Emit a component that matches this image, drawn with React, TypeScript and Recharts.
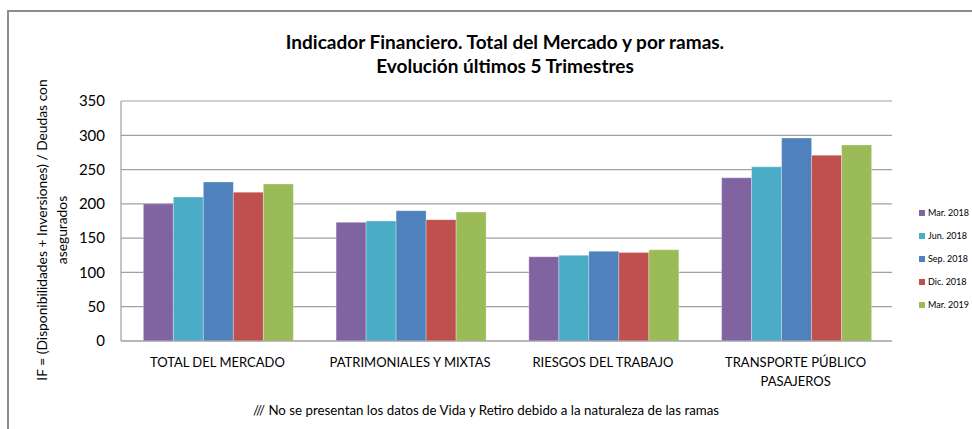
import { BarChart, Bar, XAxis, YAxis, CartesianGrid } from 'recharts'

const CATEGORIES = ['TOTAL DEL MERCADO', 'PATRIMONIALES Y MIXTAS', 'RIESGOS DEL TRABAJO', 'TRANSPORTE PÚBLICO\nPASAJEROS']
const SERIES = ['Mar. 2018', 'Jun. 2018', 'Sep. 2018', 'Dic. 2018', 'Mar. 2019']
const COLORS = ['#8064A2', '#4BACC6', '#4F81BD', '#C0504D', '#9BBB59']

const MAR_2018 = [200, 173, 123, 238]
const JUN_2018 = [210, 175, 125, 254]
const SEP_2018 = [232, 190, 131, 296]
const DIC_2018 = [217, 177, 129, 271]
const MAR_2019 = [229, 188, 133, 286]

const Y_TICKS = [0, 50, 100, 150, 200, 250, 300, 350]

const VALUES = [MAR_2018, JUN_2018, SEP_2018, DIC_2018, MAR_2019]

const data = CATEGORIES.map((name, i) => {
  const row: Record<string, string | number> = { name }
  SERIES.forEach((s, j) => {
    row[s] = VALUES[j][i]
  })
  return row
})

const FONT = 'Lato, "Liberation Sans", sans-serif'

function CategoryTick({ x, y, payload }: any) {
  const lines = String(payload.value).split('\n')
  return (
    <text x={x} y={y} textAnchor="middle" fontSize={13} fill="#000" fontFamily={FONT}>
      {lines.map((l, i) => (
        <tspan key={i} x={x} dy={i === 0 ? 18 : 19}>
          {l}
        </tspan>
      ))}
    </text>
  )
}

export default function App() {
  return (
    <div style={{ position: 'absolute', left: 0, top: 0, width: 972, height: 429, background: '#fff', overflow: 'hidden', fontFamily: FONT }}>
      <div style={{ position: 'absolute', left: 7, top: 10, right: -10, bottom: -10, borderTop: '2px solid #8c8c8c', borderLeft: '2px solid #8c8c8c' }} />
      <div style={{ position: 'absolute', left: 0, width: 1010, top: 30, textAlign: 'center', fontWeight: 700, fontSize: 19, lineHeight: '24px' }}>
        Indicador Financiero. Total del Mercado y por ramas.
        <br />
        Evolución últimos 5 Trimestres
      </div>
      <div
        style={{
          position: 'absolute',
          left: 52,
          top: 230,
          width: 340,
          transform: 'translate(-50%, -50%) rotate(-90deg)',
          textAlign: 'center',
          fontSize: 13.8,
          lineHeight: '20px',
        }}
      >
        IF = (Disponibilidades + Inversiones) / Deudas con
        <br />
        asegurados
      </div>
      <div style={{ position: 'absolute', left: 0, width: 972, top: 402, textAlign: 'center', fontSize: 13.3 }}>
        /// No se presentan los datos de Vida y Retiro debido a la naturaleza de las ramas
      </div>
      <div style={{ position: 'absolute', left: 919, top: 201, fontSize: 9, color: '#000' }}>
        {SERIES.map((s, i) => (
          <div key={s} style={{ display: 'flex', alignItems: 'center', height: 23 }}>
            <span style={{ width: 6, height: 6, background: COLORS[i], marginRight: 3, display: 'inline-block' }} />
            {s}
          </div>
        ))}
      </div>
      <BarChart
        width={972}
        height={429}
        data={data}
        margin={{ top: 101, right: 80, bottom: 58, left: 81 }}
        barCategoryGap="11.6%"
        barGap={0}
        style={{ position: 'absolute', left: 0, top: 0 }}
      >
        <CartesianGrid vertical={false} stroke="#a0a0a0" strokeWidth={1.2} />
        <XAxis dataKey="name" tick={<CategoryTick />} tickLine={false} axisLine={{ stroke: '#a0a0a0', strokeWidth: 1.2 }} interval={0} />
        <YAxis
          width={40}
          domain={[0, 350]}
          ticks={Y_TICKS}
          tickLine={false}
          axisLine={{ stroke: '#a0a0a0', strokeWidth: 1.2 }}
          tick={{ fontSize: 15, fill: '#000', fontFamily: FONT, dx: -8 }}
        />
        {SERIES.map((s, i) => (
          <Bar key={s} dataKey={s} fill={COLORS[i]} stroke="#ffffff" strokeOpacity={0.5} strokeWidth={0.6} isAnimationActive={false} />
        ))}
      </BarChart>
    </div>
  )
}
